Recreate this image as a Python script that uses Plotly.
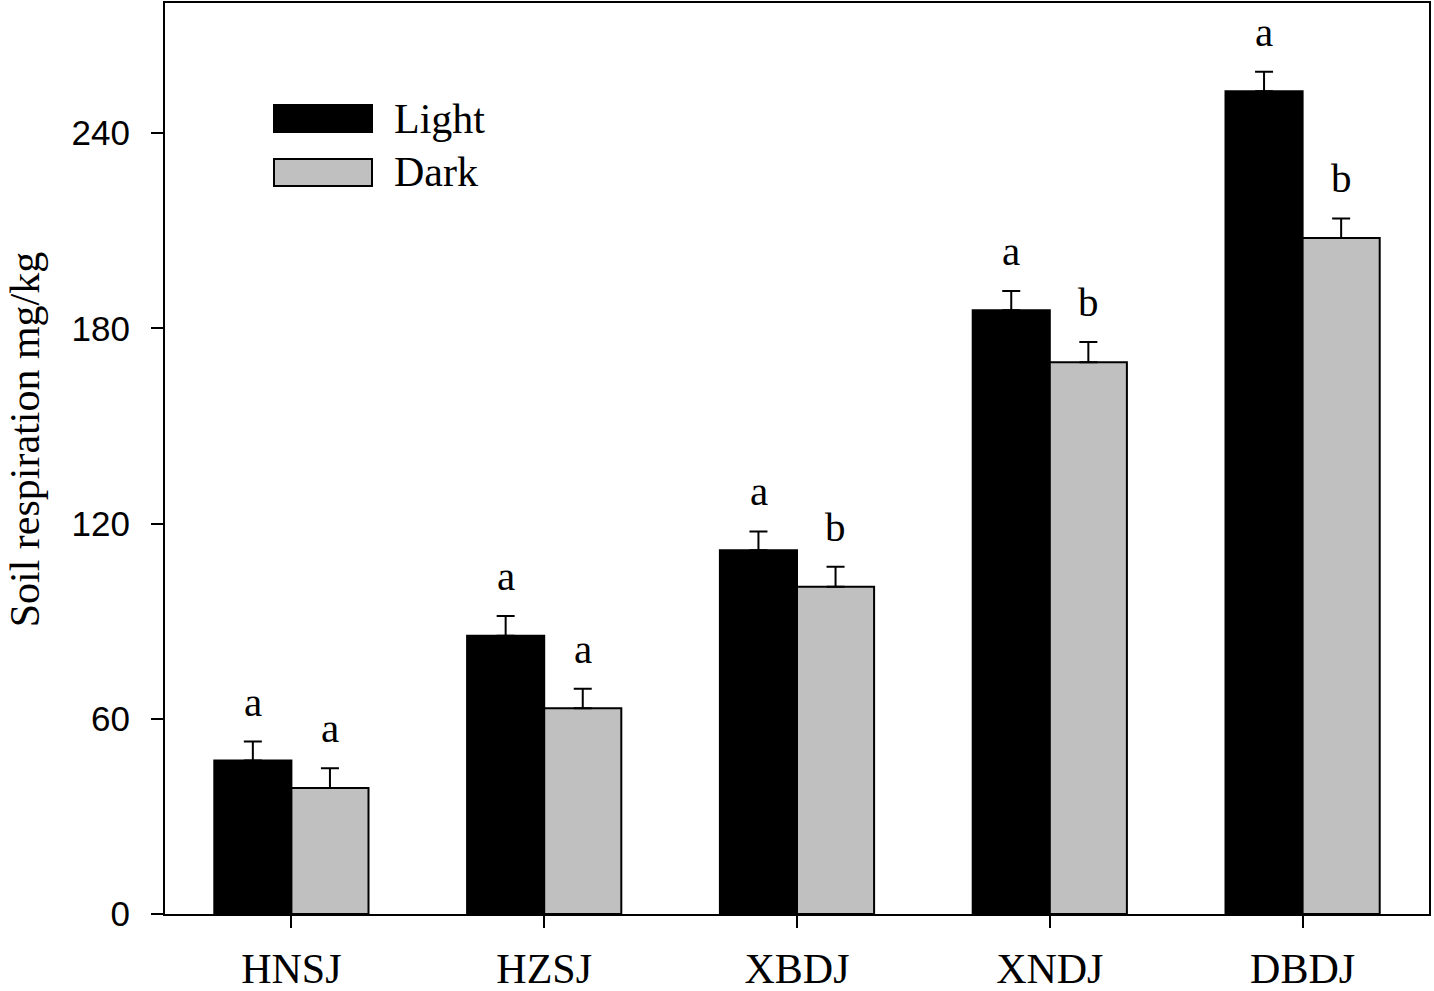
import plotly.graph_objects as go

sites = ["HNSJ", "HZSJ", "XBDJ", "XNDJ", "DBDJ"]
light = [47.2, 85.5, 111.8, 185.6, 252.9]
light_err = [5.8, 6.1, 5.8, 5.9, 6.0]
light_sig = ["a", "a", "a", "a", "a"]
dark = [38.7, 63.2, 100.6, 169.6, 207.8]
dark_err = [6.1, 6.0, 6.1, 6.2, 6.0]
dark_sig = ["a", "a", "b", "b", "b"]

SERIF = "Liberation Serif, Times New Roman, serif"
SANS = "Liberation Sans, Arial, sans-serif"


def bars(name, values, errors, color):
    return go.Bar(
        x=sites, y=values, name=name,
        marker=dict(color=color, line=dict(color="black", width=2)),
        error_y=dict(type="data", array=errors, arrayminus=[0] * len(errors),
                     symmetric=False, color="black", thickness=2, width=9),
        showlegend=False,
    )


fig = go.Figure(data=[
    bars("Light", light, light_err, "black"),
    bars("Dark", dark, dark_err, "#c0c0c0"),
])

# significance letters above the error bars
for trace, values, errors, sig in [(0, light, light_err, light_sig),
                                   (1, dark, dark_err, dark_sig)]:
    off = -0.152 if trace == 0 else 0.152
    for i, s in enumerate(sig):
        fig.add_annotation(x=i + off, y=values[i] + errors[i], text=s,
                           showarrow=False, yanchor="bottom", yshift=15,
                           font=dict(family=SERIF, size=41, color="black"))

# legend drawn by hand so the swatches can be wide
for k, (label, color) in enumerate([("Light", "black"), ("Dark", "#c0c0c0")]):
    top = (914 - 105 - k * 54) / 911
    bot = (914 - 132 - k * 54) / 911
    fig.add_shape(type="rect", xref="paper", yref="paper",
                  x0=(274 - 165) / 1264, x1=(372 - 165) / 1264, y0=bot, y1=top,
                  fillcolor=color, line=dict(color="black", width=2))
    fig.add_annotation(xref="paper", yref="paper", x=(392 - 165) / 1264,
                       y=(top + bot) / 2, text=label, showarrow=False,
                       xanchor="left", yanchor="middle",
                       font=dict(family=SERIF, size=42, color="black"))

fig.add_annotation(xref="paper", yref="paper", x=0, y=0.521, xshift=-140,
                   text="Soil respiration mg/kg", textangle=-90, showarrow=False,
                   xanchor="center", yanchor="middle",
                   font=dict(family=SERIF, size=42, color="black"))

fig.update_layout(
    width=1434, height=991,
    margin=dict(l=165, r=5, t=3, b=77),
    paper_bgcolor="white", plot_bgcolor="white",
    barmode="group", bargap=0.39, bargroupgap=0,
    xaxis=dict(showline=True, linecolor="black", linewidth=2, mirror=True,
               ticks="outside", ticklen=12, tickwidth=2, tickcolor="black",
               showgrid=False, range=[-0.5, 4.5], ticklabelstandoff=5,
               automargin=False,
               tickfont=dict(family=SERIF, size=42, color="black")),
    yaxis=dict(showline=True, linecolor="black", linewidth=2, mirror=True,
               ticks="outside", ticklen=12, tickwidth=2, tickcolor="black",
               showgrid=False, zeroline=False, range=[0, 280],
               tickvals=[0, 60, 120, 180, 240], ticklabelstandoff=14,
               automargin=False,
               tickfont=dict(family=SANS, size=35, color="black")),
)

fig.write_html("out.html", config={"displayModeBar": False},
               post_script="document.body.style.margin='0px';")
